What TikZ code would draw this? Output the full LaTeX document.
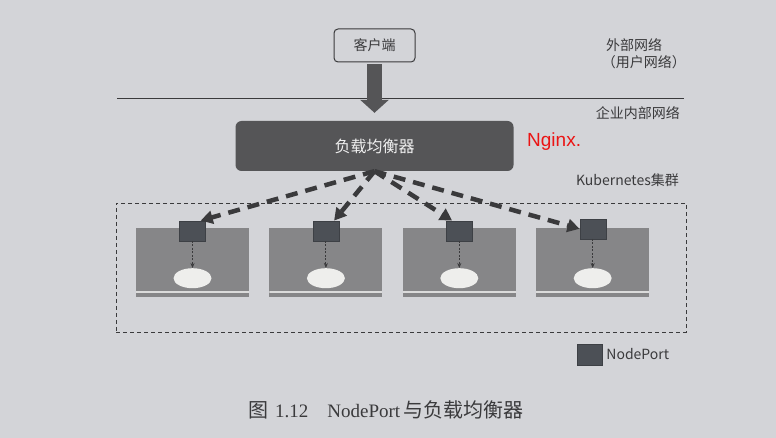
\documentclass[tikz,border=0pt]{standalone}
\usepackage{fontspec}
\setmainfont{Liberation Serif}
\setsansfont{Liberation Sans}
\newfontfamily\cjk{Noto Sans CJK SC}
\usepackage{tikz}
\usetikzlibrary{positioning, arrows.meta, shapes.geometric}
\definecolor{bg}{RGB}{211,212,216}
\definecolor{ink}{RGB}{58,58,60}
\definecolor{dark}{RGB}{85,85,87}
\definecolor{host}{RGB}{134,134,136}
\definecolor{port}{RGB}{76,80,86}
\definecolor{pod}{RGB}{238,238,236}
\definecolor{nginx}{RGB}{235,20,20}

\begin{document}
\begin{tikzpicture}[x=1pt, y=-1pt, node distance=20pt,
	lbl/.style={text=ink, font=\cjk\fontsize{14}{14}\selectfont, inner sep=0pt},
	h/.style={fill=host, minimum width=113pt, minimum height=69pt, inner sep=0pt,
		path picture={\draw[white!70!host, line width=1.5pt] ([yshift=5pt]path picture bounding box.south west) -- ([yshift=5pt]path picture bounding box.south east);}},
	p/.style={draw=port!80!black, fill=port, minimum width=26pt, minimum height=20pt, inner sep=0pt},
	e/.style={ellipse, fill=pod, minimum width=38pt, minimum height=20pt, inner sep=0pt},
	lnk/.style={ink, line width=4.5pt, dash pattern=on 12pt off 8pt, -{Triangle[length=12pt,width=13pt]}},
	pt/.style={ink, dash pattern=on 2pt off 1.5pt, line width=0.9pt, -{Stealth[length=5pt,width=4pt]}}]
	\useasboundingbox (0,0) rectangle (776,438);
	\fill[bg] (0,0) rectangle (776,438);

	\node[lbl, draw=ink, fill=bg, rounded corners=4pt, line width=1pt, minimum width=81pt, minimum height=33pt] (client) at (374.5,45.5) {客户端};
	\node[lbl, anchor=west] (ext) at (606,45) {外部网络};
	\node[lbl, anchor=east] (usr) at (686,62) {（用户网络）};
	\node[lbl, anchor=east] (ent) at (680,113) {企业内部网络};
	\node[lbl, anchor=east] (k8s) at (679,180) {Kubernetes集群};
	\draw[ink, line width=0.9pt] (117,98) -- (684,98);

	\node[fill=dark, rounded corners=6pt, minimum width=278pt, minimum height=50pt, text=white!88!gray, font=\cjk\fontsize{16}{16}\selectfont] (lb) at (374.5,146) {负载均衡器};
	\node[anchor=west, text=nginx, font=\sffamily\fontsize{19}{19}\selectfont, inner sep=0pt] (ngx) at (527,142) {Nginx.};
	\draw[dark, line width=15pt, -{Triangle[width=28pt,length=13pt]}, shorten <=2pt, shorten >=8pt] (client) -- (lb);

	\node[draw=ink, dash pattern=on 4pt off 3pt, line width=0.8pt, minimum width=570pt, minimum height=129pt] (cl) at (401,267.5) {};
	\node[h] (h1) at (192.5,262.5) {};
	\node[h, right=of h1] (h2) {};
	\node[h, right=of h2] (h3) {};
	\node[h, right=of h3] (h4) {};
	\node[p] (p1) at ([yshift=-3pt]h1.north) {};
	\node[p] (p2) at ([yshift=-3pt]h2.north) {};
	\node[p] (p3) at ([yshift=-3pt]h3.north) {};
	\node[p] (p4) at ([yshift=-1pt]h4.north) {};
	\node[e, below=27pt of p1] (e1) {};
	\node[e, below=27pt of p2] (e2) {};
	\node[e, below=27pt of p3] (e3) {};
	\node[e, below=29pt of p4] (e4) {};

	\path[pt] (p1) edge (e1);
	\path[pt] (p2) edge (e2);
	\path[pt] (p3) edge (e3);
	\path[pt] (p4) edge (e4);
	\path[lnk] (lb.south) edge ([xshift=-5pt]p1.north east);
	\path[lnk] (lb.south) edge ([xshift=-5pt]p2.north east);
	\path[lnk] (lb.south) edge ([xshift=6pt]p3.north west);
	\path[lnk] (lb.south) edge (p4.west);

	\node[p, minimum width=25pt, minimum height=21pt] (key) at (589.5,354.5) {};
	\node[lbl, right=4pt of key] (keytxt) {NodePort};
	\node[anchor=west, text=ink, inner sep=0pt, font=\fontsize{19}{19}\selectfont] (cap) at (248,410) {{\cjk\fontsize{20}{20}\selectfont 图}\hspace{7pt}1.12\hspace{19pt}NodePort\hspace{3pt}{\cjk\fontsize{20}{20}\selectfont 与负载均衡器}};
\end{tikzpicture}
\end{document}
